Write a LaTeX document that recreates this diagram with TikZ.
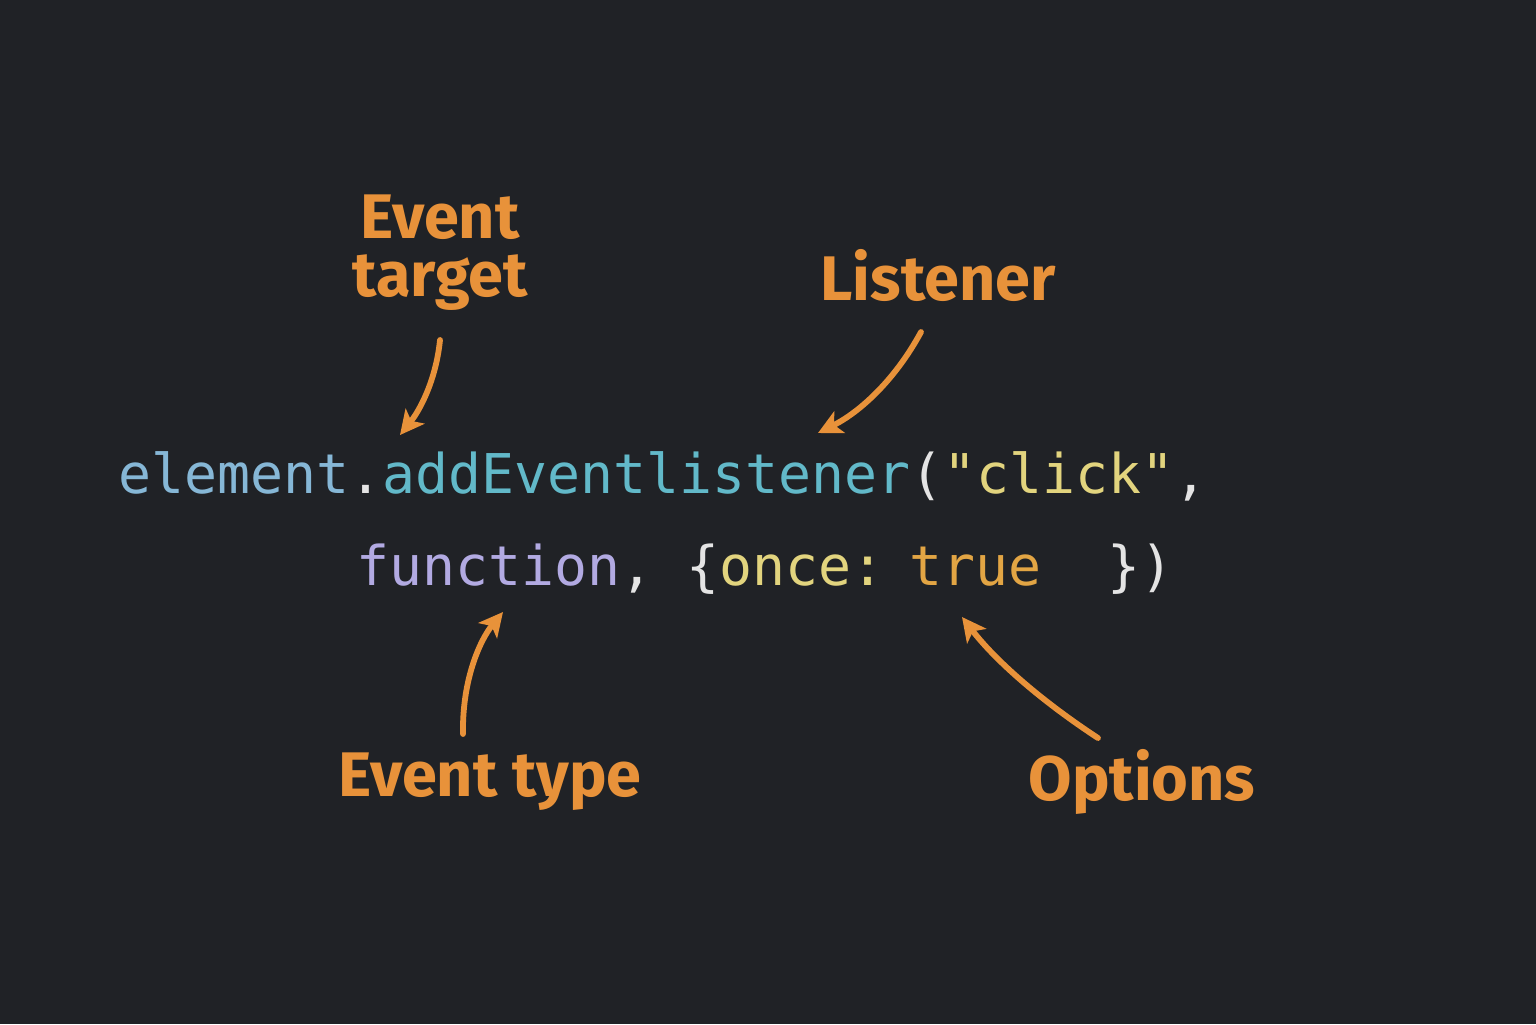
\documentclass[tikz,border=0pt]{standalone}
\usepackage{fontspec}
\setmainfont{Fira Sans}
\setmonofont{DejaVu Sans Mono}
\usetikzlibrary{arrows.meta}
\definecolor{bgdark}{HTML}{202226}
\definecolor{lblorange}{HTML}{E8923A}
\definecolor{cblue}{HTML}{86B7D6}
\definecolor{cteal}{HTML}{62B9C9}
\definecolor{cyellow}{HTML}{E2D47E}
\definecolor{cviolet}{HTML}{B2AAE2}
\definecolor{ctrue}{HTML}{E2A544}
\definecolor{cpunct}{HTML}{E4E4E4}
\tikzset{
  lbl/.style={text=lblorange, font=\fontsize{31.5}{33}\selectfont\bfseries, inner sep=0pt, align=center},
  code/.style={anchor=base west, inner sep=0pt, font=\fontsize{27.4}{30}\ttfamily},
  callout/.style={draw=lblorange, line width=2.9pt, line cap=round, -{Stealth[length=12pt,width=12pt,inset=3pt]}}
}
\begin{document}
\begin{tikzpicture}[x=0.5pt,y=-0.5pt]
	\fill[bgdark] (0,0) rectangle (1536,1024);
	\useasboundingbox (0,0) rectangle (1536,1024);
	
	% code lines
	\node[code] (line1) at (118,493) {\textcolor{cblue}{element}\textcolor{cpunct}{.}\textcolor{cteal}{addEventlistener}\textcolor{cpunct}{(}\textcolor{cyellow}{"click"}\textcolor{cpunct}{,}};
	\node[code] (line2) at (356,585) {\textcolor{cviolet}{function}\textcolor{cpunct}{, \{}\textcolor{cyellow}{once:}\hspace{-4pt} \textcolor{ctrue}{true}\textcolor{cpunct}{~~\})}};
	
	% labels
	\node[lbl] (target) at (440,253) {Event\\[-4pt]target};
	\node[lbl] (listener) at (938,275) {Listener};
	\node[lbl] (evtype) at (490,782) {Event type};
	\node[lbl] (options) at (1142,782) {Options};
	
	% arrow heads
	\coordinate (tgtend) at (400,435);
	\coordinate (lisend) at (818,433);
	\coordinate (typend) at (503,612);
	\coordinate (optend) at (962,617);
	
	\draw[callout] (440,340) .. controls (436,380) and (420,410) .. (tgtend);
	\draw[callout] (921,332) .. controls (895,380) and (860,412) .. (lisend);
	\draw[callout] (463,734) .. controls (462,680) and (480,640) .. (typend);
	\draw[callout] (1098,738) .. controls (1040,700) and (995,660) .. (optend);
\end{tikzpicture}
\end{document}
